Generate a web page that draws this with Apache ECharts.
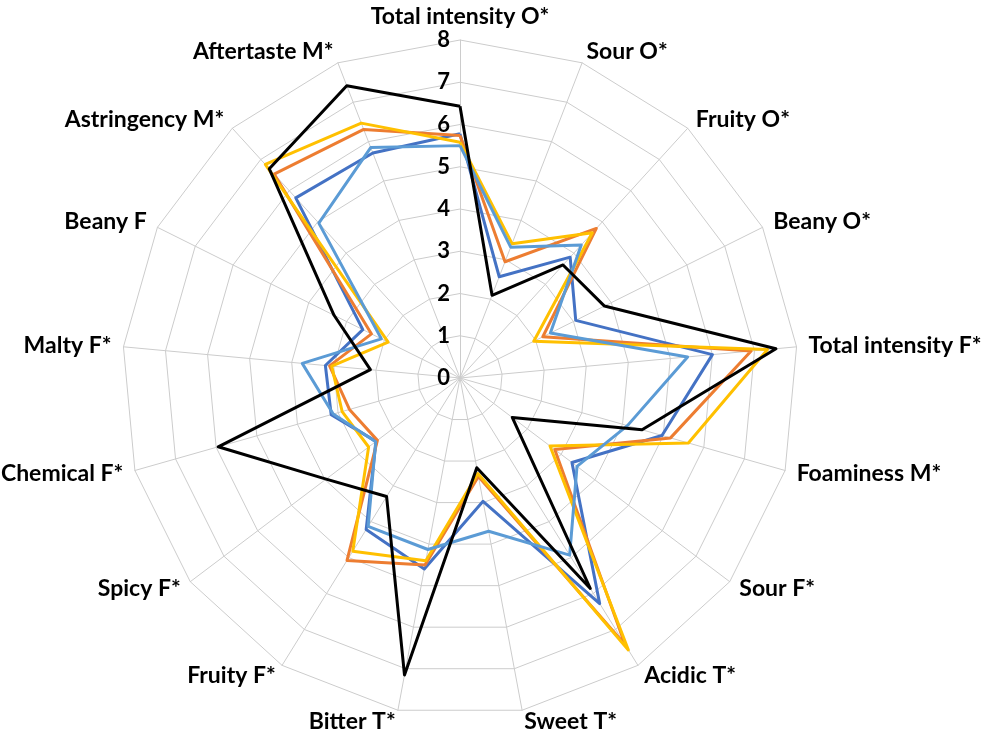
<!DOCTYPE html>
<html>
<head>
<meta charset="utf-8">
<script src="https://cdn.jsdelivr.net/npm/echarts@6/dist/echarts.min.js"></script>
<style>
    html, body { margin: 0; padding: 0; background: #fff; }
    #radar { width: 996px; height: 739px; }
</style>
</head>
<body>
<div id="radar"></div>
<script>
// attributes, clockwise from the top (as in the original figure)
let attributes = ['Total intensity O*', 'Sour O*', 'Fruity O*', 'Beany O*', 'Total intensity F*',
    'Foaminess M*', 'Sour F*', 'Acidic T*', 'Sweet T*', 'Bitter T*', 'Fruity F*', 'Spicy F*',
    'Chemical F*', 'Malty F*', 'Beany F', 'Astringency M*', 'Aftertaste M*'];

let darkBlue = [5.78, 2.57, 3.87, 3.06, 6.0, 4.97, 3.32, 6.28, 2.97, 4.6, 4.22, 2.49, 3.17, 3.2, 2.57, 5.77, 5.71];
let orange = [5.74, 2.95, 4.79, 2.19, 6.92, 5.18, 2.81, 7.43, 2.37, 4.5, 5.08, 2.45, 2.72, 3.1, 2.34, 6.53, 6.31];
let yellow = [5.58, 3.41, 4.65, 1.95, 7.31, 5.62, 2.67, 7.57, 2.3, 4.4, 4.82, 2.71, 2.9, 3.05, 1.9, 6.84, 6.47];
let lightBlue = [5.5, 3.32, 4.26, 2.39, 5.41, 4.12, 3.47, 4.93, 3.69, 4.13, 4.13, 2.5, 3.12, 3.75, 2.08, 4.96, 5.85];
let black = [6.43, 2.1, 3.62, 3.82, 7.51, 4.48, 1.55, 5.86, 2.16, 7.15, 3.3, 3.97, 5.95, 2.13, 3.33, 6.7, 7.42];

let maxValue = 8;

// echarts lays radar axes out counter-clockwise, so flip the order (keep first on top)
function clockwise(arr) {
    return [arr[0]].concat(arr.slice(1).reverse());
}

let chart = echarts.init(document.getElementById('radar'));

let indicator = clockwise(attributes).map(function (name, i) {
    return {name: name, min: 0, max: maxValue, axisLabel: {show: i === 0}};
});

function line(name, values, color) {
    return {
        name: name,
        value: clockwise(values),
        symbol: 'none',
        lineStyle: {color: color, width: 3},
        itemStyle: {color: color}
    };
}

let option = {
    animation: false,
    radar: {
        center: [460, 378],
        radius: 338,
        startAngle: 90,
        splitNumber: 8,
        shape: 'polygon',
        indicator: indicator,
        nameGap: 12,
        axisName: {
            color: '#000',
            fontWeight: 'bold',
            fontSize: 23,
            fontFamily: 'Lato'
        },
        axisLine: {lineStyle: {color: '#cccccc', width: 1}},
        splitLine: {lineStyle: {color: '#cccccc', width: 1}},
        splitArea: {show: false},
        axisTick: {show: false},
        axisLabel: {
            color: '#000',
            fontWeight: 'bold',
            fontSize: 22,
            fontFamily: 'Lato',
            margin: 10
        }
    },
    series: [{
        type: 'radar',
        data: [
            line('Sample 1', darkBlue, '#4472C4'),
            line('Sample 2', orange, '#ED7D31'),
            line('Sample 4', yellow, '#FFC000'),
            line('Sample 5', lightBlue, '#5B9BD5'),
            line('Sample 3', black, '#000000')
        ]
    }]
};

chart.setOption(option);
</script>
</body>
</html>
